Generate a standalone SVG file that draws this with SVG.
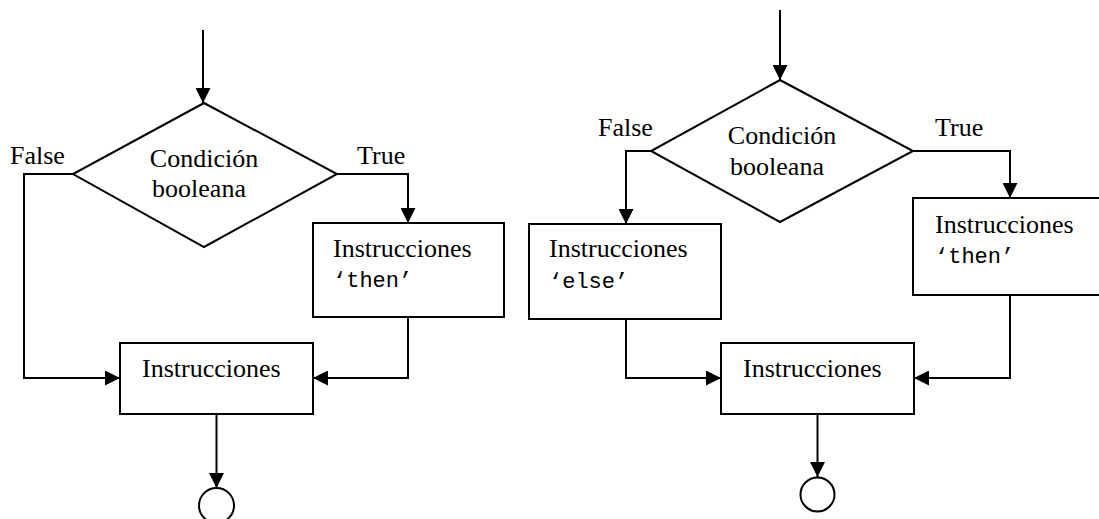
<svg xmlns="http://www.w3.org/2000/svg" width="1099" height="519" viewBox="0 0 1099 519">
<style>
.s{fill:none;stroke:#000;stroke-width:2}
.b{fill:#fff;stroke:#000;stroke-width:2}
.t{font-family:"Liberation Serif","Times New Roman",serif;font-size:26px;fill:#000}
.m{font-family:"Liberation Mono","Courier New",monospace;font-size:22px;fill:#000}
</style>
<defs>
<marker id="ah" viewBox="0 0 15 15" refX="15" refY="7.5" markerWidth="15" markerHeight="15" markerUnits="userSpaceOnUse" orient="auto">
<path d="M0,0 L15,7.5 L0,15 Z" fill="#000"/>
</marker>
</defs>
<rect width="1099" height="519" fill="#fff"/>
<g id="connectors">
<path class="s" d="M203,30 V103" marker-end="url(#ah)"/>
<path class="s" d="M73,174 H24 V378 H120" marker-end="url(#ah)"/>
<path class="s" d="M337,174 H408 V223" marker-end="url(#ah)"/>
<path class="s" d="M408,317 V378 H313" marker-end="url(#ah)"/>
<path class="s" d="M216.5,414 V488" marker-end="url(#ah)"/>
<path class="s" d="M780,10 V80" marker-end="url(#ah)"/>
<path class="s" d="M651,151 H626 V224" marker-end="url(#ah)"/>
<path class="s" d="M913,151 H1010 V198" marker-end="url(#ah)"/>
<path class="s" d="M626,319 V378 H721" marker-end="url(#ah)"/>
<path class="s" d="M1010,295 V378 H914" marker-end="url(#ah)"/>
<path class="s" d="M817.5,414 V477" marker-end="url(#ah)"/>
</g>
<g id="labels">
<text class="t" x="10" y="164">False</text>
<text class="t" x="357" y="164">True</text>
<text class="t" x="598" y="136">False</text>
<text class="t" x="935" y="136">True</text>
</g>
<g id="cond1">
<path class="b" d="M204,103 L337,174 L204,247 L73,174 Z"/>
<text class="t" x="204" y="167" text-anchor="middle">Condición</text>
<text class="t" x="199" y="197" text-anchor="middle">booleana</text>
</g>
<g id="then1">
<rect class="b" x="313" y="223" width="191" height="94"/>
<text class="t" x="333" y="257">Instrucciones</text>
<text class="m" x="333" y="287">‘then’</text>
</g>
<g id="instr1">
<rect class="b" x="120" y="343" width="193" height="71"/>
<text class="t" x="142" y="377">Instrucciones</text>
</g>
<g id="end1">
<circle class="b" cx="216.5" cy="505.5" r="17.5"/>
</g>
<g id="cond2">
<path class="b" d="M780,80 L913,151 L780,222 L651,151 Z"/>
<text class="t" x="782" y="144" text-anchor="middle">Condición</text>
<text class="t" x="777" y="175" text-anchor="middle">booleana</text>
</g>
<g id="else2">
<rect class="b" x="529" y="224" width="192" height="95"/>
<text class="t" x="549" y="257">Instrucciones</text>
<text class="m" x="549" y="288">‘else’</text>
</g>
<g id="then2">
<rect class="b" x="913" y="198" width="200" height="97"/>
<text class="t" x="935" y="233">Instrucciones</text>
<text class="m" x="935" y="263">‘then’</text>
</g>
<g id="instr2">
<rect class="b" x="721" y="343" width="193" height="71"/>
<text class="t" x="743" y="377">Instrucciones</text>
</g>
<g id="end2">
<circle class="b" cx="817.5" cy="494.5" r="17"/>
</g>
</svg>
